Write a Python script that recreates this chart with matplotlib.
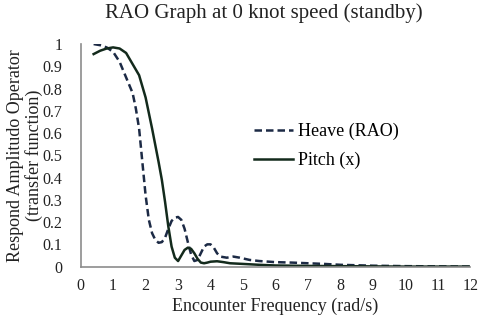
import numpy as np
import matplotlib
matplotlib.use("Agg")
import matplotlib.pyplot as plt

plt.rcParams['font.family'] = ['Liberation Serif', 'DejaVu Serif']

# heave (dashed)
heave_x = [0.4, 0.6, 0.8, 1.0, 1.2, 1.4, 1.6, 1.7, 1.8, 1.9, 2.0, 2.1, 2.2, 2.3, 2.4,
           2.5, 2.6, 2.7, 2.8, 2.9, 3.0, 3.1, 3.2, 3.3, 3.4, 3.5, 3.6, 3.7, 3.8,
           3.9, 4.0, 4.1, 4.2, 4.3, 4.5, 4.7, 4.9, 5.2, 5.5, 6.0, 6.5, 7.0, 7.5,
           8.0, 9.0, 10.0, 11.0, 12.0]
heave_y = [1.0, 0.995, 0.985, 0.965, 0.92, 0.85, 0.78, 0.71, 0.62, 0.47, 0.32, 0.21,
           0.15, 0.12, 0.107, 0.11, 0.13, 0.17, 0.205, 0.22, 0.223, 0.21, 0.17,
           0.11, 0.055, 0.025, 0.03, 0.06, 0.09, 0.10, 0.10, 0.085, 0.06, 0.045,
           0.04, 0.045, 0.04, 0.03, 0.025, 0.02, 0.018, 0.015, 0.012, 0.008,
           0.004, 0.002, 0.001, 0.0]

# pitch (solid)
pitch_x = [0.4, 0.6, 0.8, 1.0, 1.2, 1.4, 1.6, 1.8, 2.0, 2.2, 2.4, 2.5, 2.6, 2.7,
           2.8, 2.9, 3.0, 3.1, 3.2, 3.3, 3.4, 3.5, 3.6, 3.7, 3.8, 3.9, 4.0, 4.2,
           4.4, 4.6, 5.0, 5.5, 6.0, 7.0, 8.0, 9.0, 10.0, 11.0, 12.0]
pitch_y = [0.955, 0.97, 0.98, 0.985, 0.98, 0.96, 0.91, 0.86, 0.76, 0.62, 0.47,
           0.39, 0.29, 0.18, 0.09, 0.04, 0.025, 0.05, 0.075, 0.085, 0.08, 0.06,
           0.035, 0.018, 0.015, 0.018, 0.022, 0.024, 0.02, 0.015, 0.012, 0.008,
           0.005, 0.003, 0.002, 0.001, 0.0, 0.0, 0.0]

x_ticks = list(range(0, 13))
y_ticks = [0, 0.1, 0.2, 0.3, 0.4, 0.5, 0.6, 0.7, 0.8, 0.9, 1]
y_tick_labels = ['0', '0.1', '0.2', '0.3', '0.4', '0.5', '0.6', '0.7', '0.8', '0.9', '1']

fig = plt.figure(figsize=(4.8, 3.17), dpi=100)
ax = fig.add_axes([0.168, 0.159, 0.812, 0.702])

ax.plot(heave_x, heave_y, ls=(0, (3, 1.6)), color='#1c2a45', lw=1.8, label='Heave (RAO)')
ax.plot(pitch_x, pitch_y, ls='-', color='#132a1c', lw=1.8, label='Pitch (x)')

ax.set_xlim(0, 12)
ax.set_ylim(0, 1)
ax.set_xticks(x_ticks)
ax.set_yticks(y_ticks)
ax.set_yticklabels(y_tick_labels)
ax.tick_params(length=0, labelsize=11.5, colors='#222222')
ax.tick_params(axis='x', pad=8)
ax.tick_params(axis='y', pad=13)

for s in ['top', 'right']:
    ax.spines[s].set_visible(False)
for s in ['left', 'bottom']:
    ax.spines[s].set_color('#8c8c8c')
    ax.spines[s].set_linewidth(1.2)

ax.set_xlabel('Encounter Frequency (rad/s)', fontsize=13, labelpad=3, color='#222222')
ax.set_ylabel('Respond Amplitudo Operator\n(transfer function)', fontsize=13,
              labelpad=0, color='#222222', linespacing=1.05)
fig.suptitle('RAO Graph at 0 knot speed (standby)', x=0.55, y=0.99, fontsize=15,
             color='#222222')

ax.legend(loc='upper left', bbox_to_anchor=(0.446, 0.645), frameon=False,
          fontsize=13, handlelength=2.15, handletextpad=0.28, labelspacing=0.62,
          borderaxespad=0, borderpad=0)

fig.savefig('out.png', dpi=100)
